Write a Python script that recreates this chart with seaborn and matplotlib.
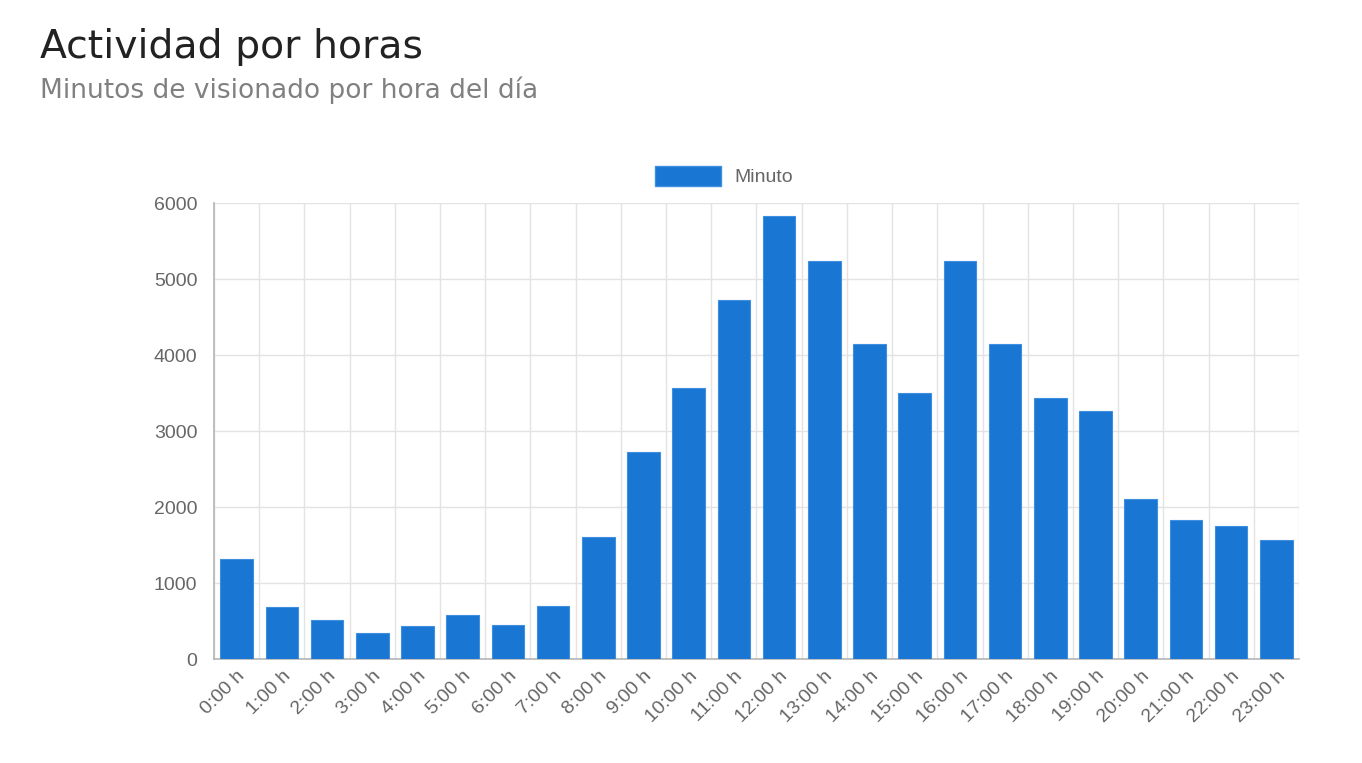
import matplotlib
matplotlib.use("Agg")
import matplotlib.pyplot as plt
import seaborn as sns
import pandas as pd
import numpy as np
from matplotlib.patches import Patch

hours = [f"{h}:00 h" for h in range(24)]
minutes = [1320, 680, 510, 340, 435, 580, 450, 700, 1600, 2720, 3565, 4720,
           5830, 5240, 4145, 3500, 5240, 4150, 3435, 3260, 2105, 1830, 1750, 1565]
series_name = "Minuto"
title = "Actividad por horas"
subtitle = "Minutos de visionado por hora del día"

df = pd.DataFrame({"hora": hours, "minutos": minutes})

sns.set_theme(style="white")
plt.rcParams["font.family"] = ["Liberation Sans", "DejaVu Sans"]

fig = plt.figure(figsize=(13.62, 7.63), dpi=100)
ax = fig.add_axes([214/1362, 1-659/763, (1299-214)/1362, (659-203)/763])

bar_color = "#1976D2"
sns.barplot(data=df, x="hora", y="minutos", color=bar_color, width=0.72,
            edgecolor="#3f8fe0", linewidth=0.8, ax=ax, zorder=3, saturation=1)

ax.set_xlim(-0.5, 23.5)
ax.set_ylim(0, 6000)
ax.set_yticks(np.arange(0, 6001, 1000))
ax.set_xlabel("")
ax.set_ylabel("")

grid_c = "#e3e3e3"
ax.set_xticks(np.arange(-0.5, 24, 1), minor=True)
ax.grid(True, axis="y", which="major", color=grid_c, linewidth=1, zorder=0)
ax.grid(True, axis="x", which="minor", color=grid_c, linewidth=1, zorder=0)
ax.grid(False, axis="x", which="major")

for s in ["top", "right"]:
    ax.spines[s].set_visible(False)
for s in ["left", "bottom"]:
    ax.spines[s].set_color("#b5b5b5")
    ax.spines[s].set_linewidth(1.2)

tick_fs = 14
ax.tick_params(axis="x", which="major", length=0, pad=6)
ax.tick_params(axis="x", which="minor", length=8, color=grid_c, width=1)
ax.tick_params(axis="y", which="major", length=8, color=grid_c, width=1, pad=4)
ax.set_xticklabels(hours, rotation=45, ha="right", rotation_mode="anchor",
                   fontsize=tick_fs, color="#666666")
for lab in ax.get_yticklabels():
    lab.set_fontsize(tick_fs)
    lab.set_color("#666666")

handle = Patch(facecolor=bar_color, edgecolor="#3f8fe0")
fig.legend([handle], [series_name], loc="center", bbox_to_anchor=(724/1362, 1-176/763),
           frameon=False, handlelength=3.4, handleheight=1.2, fontsize=tick_fs,
           labelcolor="#666666", handletextpad=0.7)

fig.text(40/1362, 1-58/763, title, fontsize=28.4, color="#222222",
         family=["DejaVu Sans"], fontweight="normal", va="baseline")
fig.text(40/1362, 1-98/763, subtitle, fontsize=19, color="#808080",
         family=["DejaVu Sans"], fontweight="normal", va="baseline")

fig.savefig("out.png", dpi=100, facecolor="white")
